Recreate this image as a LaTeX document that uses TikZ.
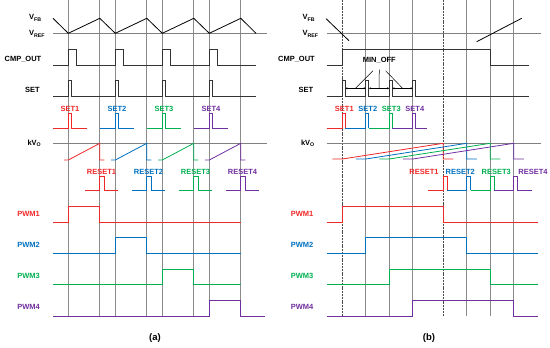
\documentclass[tikz,border=0pt]{standalone}
\usepackage{fontspec}
\setmainfont{Liberation Sans}
\usetikzlibrary{arrows.meta}
\definecolor{sigred}{RGB}{240,40,40}
\definecolor{sigblue}{RGB}{0,112,192}
\definecolor{siggreen}{RGB}{0,176,80}
\definecolor{sigpurple}{RGB}{112,48,160}
\tikzset{
  lbl/.style={font=\fontsize{7.5}{8}\selectfont\bfseries, inner sep=0pt},
  trace/.style={line width=0.8pt, draw=black!80},
  refline/.style={line width=1.2pt, draw=black!50},
  gridline/.style={line width=0.7pt, draw=black!45},
  sigline/.style={line width=0.8pt, draw=#1},
  dimarrow/.style={{Stealth[length=2.2pt,width=2pt]}-{Stealth[length=2.2pt,width=2pt]}, line width=0.5pt},
}
\begin{document}
\begin{tikzpicture}[x=1pt,y=-1pt]
\useasboundingbox (0,0) rectangle (550,348);
% time marks
\foreach \x in {68.3,99.8,115.3,146.8,162.3,193.8,209.3,240.8,365.8,389.3,412.8,466.8,490.3,513.8}
  \draw[gridline] (\x,0) -- (\x,316);
\foreach \x in {342.3,443.3}
  \draw[gridline,dash pattern=on 2pt off 0.8pt,draw=black!70] (\x,0) -- (\x,316);
% row names, both panels
\foreach \p/\dx in {A/0,B/273.5}{
  \node[lbl,anchor=west] (vfb\p) at (29+\dx,18) {V\textsubscript{FB}};
  \node[lbl,anchor=west] (vref\p) at (29+\dx,34) {V\textsubscript{REF}};
  \node[lbl,anchor=east] (cmp\p) at (41.5+\dx,59) {CMP\_OUT};
  \node[lbl,anchor=east] (set\p) at (40+\dx,90) {SET};
  \node[lbl,anchor=east] (kvo\p) at (41.5+\dx,143) {kV\textsubscript{O}};
  \foreach \k/\c in {1/sigred,2/sigblue,3/siggreen,4/sigpurple}
    \node[lbl,anchor=east,text=\c] (pwm\p\k) at (40+\dx,{213.8+31.2*(\k-1)}) {PWM\k};
}
% (a) normal operation
\draw[refline] (53,33.3) -- (267,33.3);
\draw[refline] (53,143.3) -- (267,143.3);
\draw[trace,draw=black] (53,18.3) \foreach \t in {68.3,115.3,162.3,209.3}{ -- (\t,33.3) -- (\t+31.5,18.3)} -- (256,33.3);
\draw[trace] (53,65.7) \foreach \t in {68.3,115.3,162.3,209.3}{ -- (\t,65.7) -- (\t,49.3) -- (\t+8.4,49.3) -- (\t+8.4,65.7)} -- (256,65.7);
\draw[trace] (53,96.7) \foreach \t in {68.3,115.3,162.3,209.3}{ -- (\t,96.7) -- (\t,80.7) -- (\t+3.4,80.7) -- (\t+3.4,96.7)} -- (256,96.7);
\foreach \t/\c/\k/\fin in {68.3/sigred/1/240.8,115.3/sigblue/2/240.8,162.3/siggreen/3/240.8,209.3/sigpurple/4/265}{
  \pgfmathsetmacro\lo{222.3+31.2*(\k-1)}
  \pgfmathsetmacro\hi{\lo-15.8}
  \node[lbl,text=\c] (setA\k) at (\t+1.7,109) {SET\k};
  \draw[sigline=\c] (\t-15.3,128.3) -- (\t,128.3) -- (\t,113.3) -- (\t+3.4,113.3) -- (\t+3.4,128.3) -- (\t+19,128.3);
  \draw[sigline=\c] (\t-4.3,160) -- (\t,160) -- (\t+31.5,143.3) -- (\t+31.5,160) -- (\t+36,160);
  \node[lbl,text=\c] (resetA\k) at (\t+33.2,171.7) {RESET\k};
  \draw[sigline=\c] (\t+16.5,190) -- (\t+31.5,190) -- (\t+31.5,176.7) -- (\t+35.8,176.7) -- (\t+35.8,190) -- (\t+49.5,190);
  \draw[sigline=\c] (53,\lo) -- (\t,\lo) -- (\t,\hi) -- (\t+31.5,\hi) -- (\t+31.5,\lo) -- (\fin,\lo);
}
\node[font=\fontsize{9.5}{10}\selectfont\bfseries] (capA) at (155,338) {(a)};
% (b) load step, MIN_OFF limited
\draw[refline] (326.7,33.3) -- (540.7,33.3);
\draw[refline] (326.7,143.3) -- (540.7,143.3);
\draw[trace,draw=black] (326,18.6) -- (349,40.7);
\draw[trace,draw=black] (476.7,41.7) -- (521.7,18.3);
\draw[trace] (326.7,65.7) -- (342.3,65.7) -- (342.3,49.3) -- (490.3,49.3) -- (490.3,65.7) -- (529.3,65.7);
\draw[trace] (326.7,96.7) \foreach \s in {342.3,365.8,389.3,412.8}{ -- (\s,96.7) -- (\s,80.7) -- (\s+3,80.7) -- (\s+3,96.7)} -- (529.3,96.7);
\node[lbl] (minoff) at (379.3,60.7) {MIN\_OFF};
\foreach \a/\b/\n in {345.3/365.8/1,368.8/389.3/2,392.3/412.8/3}{
  \draw[dimarrow] (\a,88.3) -- (\b,88.3);
  \coordinate (gap\n) at ({(\a+\b)/2},88.3);
}
\coordinate (tipL) at (373,70.7);
\coordinate (tipM) at (379.3,69.7);
\coordinate (tipR) at (385.6,70.7);
\draw[line width=0.5pt] (tipL) -- (gap1);
\draw[line width=0.5pt] (tipM) -- (gap2);
\draw[line width=0.5pt] (tipR) -- (gap3);
\foreach \s/\c/\k/\lx in {342.3/sigred/1/424,365.8/sigblue/2/460.3,389.3/siggreen/3/496.3,412.8/sigpurple/4/533}{
  \pgfmathsetmacro\lo{222.3+31.2*(\k-1)}
  \pgfmathsetmacro\hi{\lo-15.8}
  \pgfmathsetmacro\sa{\k==1 ? 326.7 : \s-20.5}
  \pgfmathsetmacro\sb{\k==4 ? 426.7 : \s+3}
  \pgfmathsetmacro\ra{\k==1 ? 428.3 : \s+81.5}
  \pgfmathsetmacro\rb{\k==4 ? 531.7 : \s+105}
  \node[lbl,text=\c] (setB\k) at (\s+2,109) {SET\k};
  \draw[sigline=\c] (\sa,128.3) -- (\s,128.3) -- (\s,113.3) -- (\s+3,113.3) -- (\s+3,128.3) -- (\sb,128.3);
  \draw[sigline=\c] (\s-10,159) -- (\s,159) -- (\s+101,143.3) -- (\s+101,159) -- (\s+111,159);
  \node[lbl,text=\c] (resetB\k) at (\lx,171.7) {RESET\k};
  \draw[sigline=\c] (\ra,190) -- (\s+101,190) -- (\s+101,176.7) -- (\s+105,176.7) -- (\s+105,190) -- (\rb,190);
  \draw[sigline=\c] (326.7,\lo) -- (\s,\lo) -- (\s,\hi) -- (\s+101,\hi) -- (\s+101,\lo) -- (537.7,\lo);
}
\node[font=\fontsize{9.5}{10}\selectfont\bfseries] (capB) at (429,338) {(b)};
\end{tikzpicture}
\end{document}
